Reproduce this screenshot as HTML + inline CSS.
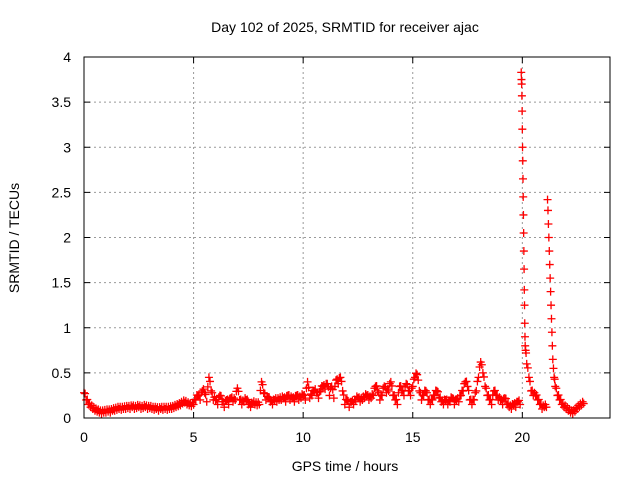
<!DOCTYPE html>
<html><head><meta charset="utf-8"><style>
body{margin:0;background:#fff}
svg text{font-family:"Liberation Sans",sans-serif;font-size:14px;fill:#000}
</style></head><body>
<svg id="c" width="640" height="480">
<text x="345" y="32" text-anchor="middle">Day 102 of 2025, SRMTID for receiver ajac</text>
<text x="345" y="471" text-anchor="middle">GPS time / hours</text>
<text transform="translate(19,238) rotate(-90)" text-anchor="middle">SRMTID / TECUs</text>
<g id="grid"></g><g id="marks"></g>
<rect x="84" y="57" width="526" height="361" fill="none" stroke="#000" stroke-width="1"/>
<g id="ticks"></g>
</svg>
<script>
const xTicks=[0,5,10,15,20];
const yTicks=[0,0.5,1,1.5,2,2.5,3,3.5,4];
const yTickLabels=["0","0.5","1","1.5","2","2.5","3","3.5","4"];
const baseValues=[0.28,0.2,0.15,0.12,0.1,0.08,0.07,0.06,0.05,0.06,
0.06,0.07,0.06,0.08,0.08,0.09,0.1,0.09,0.1,0.1,
0.11,0.1,0.12,0.1,0.11,0.12,0.1,0.11,0.12,0.1,
0.11,0.1,0.09,0.1,0.08,0.1,0.09,0.1,0.09,0.1,
0.1,0.11,0.12,0.13,0.14,0.16,0.17,0.15,0.14,0.13,
0.15,0.2,0.25,0.2,0.3,0.28,0.18,0.45,0.3,0.2,
0.2,0.15,0.25,0.18,0.12,0.2,0.15,0.22,0.18,0.2,
0.33,0.2,0.15,0.18,0.2,0.15,0.12,0.16,0.15,0.14,
0.15,0.4,0.28,0.2,0.22,0.18,0.15,0.2,0.18,0.2,
0.2,0.22,0.18,0.25,0.2,0.22,0.18,0.25,0.2,0.22,
0.25,0.2,0.4,0.22,0.25,0.3,0.28,0.22,0.3,0.35,
0.32,0.38,0.25,0.35,0.22,0.42,0.38,0.45,0.3,0.15,
0.2,0.12,0.18,0.15,0.2,0.22,0.18,0.2,0.22,0.25,
0.2,0.22,0.25,0.35,0.3,0.2,0.25,0.35,0.28,0.3,
0.4,0.25,0.2,0.15,0.35,0.3,0.25,0.38,0.3,0.25,
0.35,0.45,0.48,0.3,0.2,0.25,0.3,0.2,0.15,0.2,
0.25,0.3,0.22,0.18,0.15,0.2,0.15,0.18,0.22,0.15,
0.2,0.18,0.25,0.3,0.4,0.35,0.2,0.15,0.2,0.3,
0.45,0.62,0.5,0.35,0.25,0.2,0.15,0.3,0.25,0.2,
0.2,0.15,0.22,0.15,0.12,0.1,0.15,0.12,0.18,0.15];
const peak1Times=[19.95,19.96,19.97,19.98,19.99,20.0,20.01,20.02,20.03,20.04,20.05,20.06,20.07,20.08,20.09,20.1,20.11,20.12,20.13,20.15,20.17];
const peak1Values=[3.83,3.75,3.7,3.57,3.4,3.2,3.0,2.85,2.65,2.45,2.25,2.05,1.85,1.65,1.42,1.25,1.05,0.9,0.8,0.75,0.72];
const midTimes=[20.2,20.3,20.4,20.5,20.6,20.7,20.8,20.9,21.0,21.1];
const midValues=[0.6,0.45,0.3,0.25,0.25,0.2,0.15,0.1,0.12,0.12];
const peak2Times=[21.15,21.17,21.19,21.21,21.23,21.25,21.27,21.29,21.31,21.33,21.35,21.37,21.39,21.42,21.45];
const peak2Values=[2.42,2.3,2.15,2.0,1.85,1.7,1.55,1.4,1.25,1.1,0.95,0.8,0.65,0.55,0.45];
const tailValues=[0.35,0.25,0.2,0.15,0.12,0.1,0.08,0.06,0.05,0.07,0.1,0.12,0.14,0.16];
const X=h=>84+h*(526/24), Y=v=>418-v*(361/4);
const NS="http://www.w3.org/2000/svg";
const grid=document.getElementById('grid'),ticks=document.getElementById('ticks'),marks=document.getElementById('marks');
function ln(p,x1,y1,x2,y2,s,d){const l=document.createElementNS(NS,'line');l.setAttribute('x1',x1);l.setAttribute('y1',y1);l.setAttribute('x2',x2);l.setAttribute('y2',y2);l.setAttribute('stroke',s);if(d)l.setAttribute('stroke-dasharray',d);p.appendChild(l);return l;}
function tx(p,x,y,t,a){const e=document.createElementNS(NS,'text');e.setAttribute('x',x);e.setAttribute('y',y);e.setAttribute('text-anchor',a);e.textContent=t;p.appendChild(e);return e;}
xTicks.forEach(t=>{const x=X(t);
if(t>0){const g=ln(grid,x,57,x,418,'#999','2,3');}
ln(ticks,x,418,x,412,'#000');ln(ticks,x,57,x,63,'#000');
const e=tx(ticks,x,442,String(t),'middle');

});
yTicks.forEach((t,i)=>{const y=Y(t);
if(t>0&&t<4){const g=ln(grid,84,y,610,y,'#999','2,3');}
ln(ticks,84,y,90,y,'#000');ln(ticks,610,y,604,y,'#000');
const e=tx(ticks,71,y+5,yTickLabels[i],'end');

});
const pts=[];
baseValues.forEach((v,i)=>pts.push([i*0.1,v]));
peak1Times.forEach((t,i)=>pts.push([t,peak1Values[i]]));
midTimes.forEach((t,i)=>pts.push([t,midValues[i]]));
peak2Times.forEach((t,i)=>pts.push([t,peak2Values[i]]));
tailValues.forEach((v,i)=>pts.push([21.5+i*0.1,v]));
// interleave extra midpoints for density
const all=[];
for(let i=0;i<pts.length;i++){all.push(pts[i]);if(i+1<pts.length&&pts[i+1][0]-pts[i][0]>0.05&&pts[i][1]<0.7&&pts[i+1][1]<0.7){all.push([(pts[i][0]+pts[i+1][0])/2,(pts[i][1]+pts[i+1][1])/2+0.03]);}}
all.forEach(p=>{const x=X(p[0]),y=Y(p[1]);
const g=document.createElementNS(NS,'path');
g.setAttribute('d',`M${x-4},${y}H${x+4}M${x},${y-4}V${y+4}`);
g.setAttribute('stroke','#f00');g.setAttribute('stroke-width','1.3');


marks.appendChild(g);});
</script>
</body></html>
